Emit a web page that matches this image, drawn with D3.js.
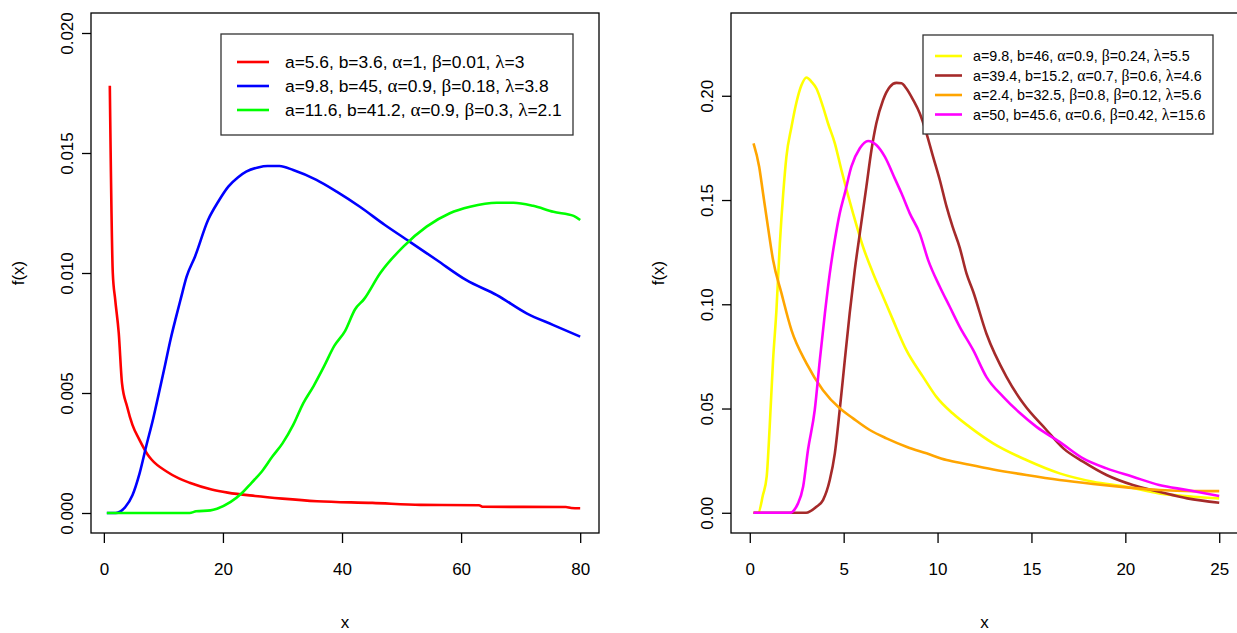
<!DOCTYPE html>
<html>
<head>
<meta charset="utf-8">
<script src="https://cdn.jsdelivr.net/npm/d3@7"></script>
<style>
  html, body { margin: 0; padding: 0; background: #fff; }
  svg { display: block; }
  text { font-family: "Liberation Sans", Arial, sans-serif; fill: #000; }
  .greek { font-family: "Liberation Serif", "DejaVu Serif", serif; }
</style>
</head>
<body>
<svg id="chart" width="1237" height="633"></svg>
<script>
// ---- Left panel: three densities on x in [1, 80] ----
const leftXTicks = [0, 20, 40, 60, 80];
const leftYTicks = [0, 0.005, 0.010, 0.015, 0.020];
const leftYTickLabels = ["0.000", "0.005", "0.010", "0.015", "0.020"];

const redX = [1, 1.5, 1.9, 2.5, 3.05, 3.9, 4.8, 6.0, 7.4, 8.0, 10.6, 12.6, 14.4, 18.1, 20.8, 25.4, 30, 35.8, 45.1, 53.2, 63.0, 63.7, 77.6, 78.5, 80];
const redY = [0.0178, 0.0100, 0.0089, 0.0075, 0.0054, 0.00444, 0.00367, 0.00304, 0.00242, 0.00223, 0.00172, 0.00144, 0.00126, 0.00098, 0.00085, 0.00071, 0.0006, 0.00049, 0.00042, 0.00034, 0.00032, 0.00026, 0.00025, 0.00021, 0.0002];

const blueX = [0.5, 2.0, 2.8, 3.6, 4.8, 6.0, 7.1, 8.3, 9.5, 10.3, 11.2, 12.1, 12.9, 13.9, 15.3, 17.5, 19.2, 20.9, 22.5, 23.9, 25.9, 27.5, 29.5, 31.8, 35.7, 39.1, 43.0, 47.2, 51.4, 55.9, 60.9, 66.0, 71.0, 75.5, 80];
const blueY = [0, 0, 0.00007, 0.00025, 0.00074, 0.00165, 0.00277, 0.00395, 0.00528, 0.00619, 0.00723, 0.00814, 0.00891, 0.00985, 0.01068, 0.01221, 0.01297, 0.0136, 0.01398, 0.01422, 0.0144, 0.01446, 0.01446, 0.01429, 0.01388, 0.01339, 0.01276, 0.0120, 0.0113, 0.01054, 0.0097, 0.00908, 0.00832, 0.00783, 0.00735];

const greenX = [0.5, 14.4, 15.5, 17.9, 19.0, 21.3, 23.1, 24.8, 26.5, 28.3, 30.0, 31.8, 33.5, 35.2, 37.0, 38.7, 40.5, 42.2, 43.7, 46.4, 50.3, 54.2, 58.1, 61.5, 66.0, 68.8, 72.1, 75.5, 78.9, 80];
const greenY = [0, 0, 0.00007, 0.00011, 0.00018, 0.00046, 0.00081, 0.00126, 0.00172, 0.00235, 0.0029, 0.00367, 0.00458, 0.00528, 0.00612, 0.00696, 0.00758, 0.00849, 0.00891, 0.00999, 0.0111, 0.01193, 0.01249, 0.01276, 0.01293, 0.01293, 0.0128, 0.01255, 0.01238, 0.01221];

const leftColors = ["#FF0000", "#0000FF", "#00FF00"];
const leftLegend = [
  [["a=5.6, b=3.6, ", 0], ["\u03b1", 1], ["=1, ", 0], ["\u03b2", 1], ["=0.01, ", 0], ["\u03bb", 1], ["=3", 0]],
  [["a=9.8, b=45, ", 0], ["\u03b1", 1], ["=0.9, ", 0], ["\u03b2", 1], ["=0.18, ", 0], ["\u03bb", 1], ["=3.8", 0]],
  [["a=11.6, b=41.2, ", 0], ["\u03b1", 1], ["=0.9, ", 0], ["\u03b2", 1], ["=0.3, ", 0], ["\u03bb", 1], ["=2.1", 0]]
];

// ---- Right panel: four densities on x in (0, 25] ----
const rightXTicks = [0, 5, 10, 15, 20, 25];
const rightYTicks = [0, 0.05, 0.10, 0.15, 0.20];
const rightYTickLabels = ["0.00", "0.05", "0.10", "0.15", "0.20"];

const yellowX = [0.2, 0.45, 0.7, 0.9, 1.06, 1.24, 1.42, 1.6, 1.78, 1.95, 2.22, 2.49, 2.75, 3.02, 3.29, 3.55, 3.9, 4.17, 4.53, 4.88, 5.5, 6.03, 6.57, 7.1, 7.63, 8.34, 9.23, 9.94, 10.8, 11.7, 12.96, 14.73, 16.5, 18.28, 20.06, 21.8, 23.6, 25];
const yellowY = [0, 0, 0.0085, 0.0173, 0.0412, 0.0732, 0.0972, 0.129, 0.153, 0.1707, 0.185, 0.197, 0.205, 0.2088, 0.2067, 0.2035, 0.1947, 0.1867, 0.1772, 0.1644, 0.1436, 0.1276, 0.1148, 0.1036, 0.0924, 0.078, 0.0652, 0.0556, 0.0477, 0.0412, 0.0333, 0.0253, 0.0189, 0.0149, 0.0125, 0.0093, 0.0077, 0.0069];

const brownX = [0.2, 3.0, 3.55, 3.9, 4.26, 4.53, 4.79, 5.06, 5.32, 5.59, 5.86, 6.21, 6.48, 6.74, 7.1, 7.46, 7.81, 8.08, 8.34, 8.7, 9.05, 9.41, 9.76, 10.12, 10.48, 10.8, 11.18, 11.54, 11.9, 12.6, 13.67, 14.56, 15.8, 16.7, 17.75, 19, 20.4, 21.8, 23.3, 25];
const brownY = [0, 0, 0.0029, 0.0061, 0.0157, 0.0285, 0.0493, 0.0732, 0.0956, 0.1164, 0.134, 0.1564, 0.174, 0.1868, 0.198, 0.2043, 0.2062, 0.206, 0.2035, 0.198, 0.1916, 0.182, 0.1708, 0.1596, 0.1468, 0.1372, 0.1272, 0.1148, 0.106, 0.086, 0.0652, 0.0525, 0.0397, 0.0309, 0.0245, 0.0181, 0.0133, 0.0101, 0.0069, 0.0048];

const orangeX = [0.2, 0.5, 0.71, 0.97, 1.24, 1.69, 2.22, 3.02, 3.9, 4.79, 5.5, 6.39, 7.28, 8.34, 9.41, 10.48, 11.5, 12.96, 14.73, 16.5, 18.28, 20.06, 21.8, 23.6, 25];
const orangeY = [0.1772, 0.166, 0.153, 0.137, 0.1212, 0.1052, 0.0876, 0.0717, 0.0588, 0.0501, 0.0453, 0.0397, 0.0357, 0.0317, 0.0285, 0.0253, 0.0234, 0.0208, 0.0181, 0.0157, 0.0138, 0.0122, 0.0109, 0.0104, 0.0104];

const magentaX = [0.2, 2.13, 2.57, 2.84, 3.1, 3.46, 3.73, 4.0, 4.26, 4.53, 4.79, 5.06, 5.41, 5.86, 6.3, 6.74, 7.19, 7.72, 8.08, 8.52, 9.05, 9.5, 10.12, 10.65, 11.18, 11.9, 12.6, 13.5, 14.4, 15.27, 16.5, 17.75, 19, 20.4, 21.8, 23.3, 25];
const magentaY = [0, 0, 0.0045, 0.0125, 0.0301, 0.0493, 0.0732, 0.0956, 0.1148, 0.1308, 0.1436, 0.1532, 0.166, 0.1748, 0.1783, 0.1764, 0.1708, 0.1604, 0.1532, 0.1436, 0.134, 0.1212, 0.1084, 0.0988, 0.0892, 0.078, 0.0652, 0.0556, 0.0477, 0.0412, 0.034, 0.0261, 0.0213, 0.0173, 0.0133, 0.0109, 0.008];

const rightColors = ["#FFFF00", "#A52A2A", "#FFA500", "#FF00FF"];
const rightLegend = [
  [["a=9.8, b=46, ", 0], ["\u03b1", 1], ["=0.9, ", 0], ["\u03b2", 1], ["=0.24, ", 0], ["\u03bb", 1], ["=5.5", 0]],
  [["a=39.4, b=15.2, ", 0], ["\u03b1", 1], ["=0.7, ", 0], ["\u03b2", 1], ["=0.6, ", 0], ["\u03bb", 1], ["=4.6", 0]],
  [["a=2.4, b=32.5, ", 0], ["\u03b2", 1], ["=0.8, ", 0], ["\u03b2", 1], ["=0.12, ", 0], ["\u03bb", 1], ["=5.6", 0]],
  [["a=50, b=45.6, ", 0], ["\u03b1", 1], ["=0.6, ", 0], ["\u03b2", 1], ["=0.42, ", 0], ["\u03bb", 1], ["=15.6", 0]]
];

const zip = (xs, ys) => xs.map((x, i) => [x, ys[i]]);

const svg = d3.select("#chart");

function drawPanel(cfg) {
  const { box, xDomain, yDomain, xTicks, yTicks, yTickLabels, series, colors, legend, id } = cfg;
  const x = d3.scaleLinear().domain(xDomain).range([box.left, box.right]);
  const y = d3.scaleLinear().domain(yDomain).range([box.bottom, box.top]);
  const g = svg.append("g");

  g.append("clipPath").attr("id", id).append("rect")
    .attr("x", box.left).attr("y", box.top)
    .attr("width", box.right - box.left).attr("height", box.bottom - box.top);

  const line = d3.line().x(d => x(d[0])).y(d => y(d[1])).curve(d3.curveMonotoneX);
  const plot = g.append("g").attr("clip-path", `url(#${id})`);
  series.forEach((s, i) => {
    plot.append("path").datum(s)
      .attr("d", line)
      .attr("fill", "none")
      .attr("stroke", colors[i])
      .attr("stroke-width", 2.6)
      .attr("stroke-linejoin", "round");
  });

  // x axis
  const xAxis = d3.axisBottom(x).tickValues(xTicks).tickSize(10).tickPadding(20).tickFormat(d3.format("d"));
  const gx = g.append("g").attr("transform", `translate(0,${box.bottom})`).call(xAxis);
  gx.select(".domain").remove();
  gx.selectAll("line").attr("stroke", "#000").attr("stroke-width", 1.3);
  gx.selectAll("text").attr("font-size", 17).attr("font-family", "Liberation Sans, Arial, sans-serif").attr("fill", "#000");

  // y axis with rotated labels
  const yAxis = d3.axisLeft(y).tickValues(yTicks).tickSize(9).tickFormat((d, i) => yTickLabels[i]);
  const gy = g.append("g").attr("transform", `translate(${box.left},0)`).call(yAxis);
  gy.select(".domain").remove();
  gy.selectAll("line").attr("stroke", "#000").attr("stroke-width", 1.3);
  gy.selectAll("text")
    .attr("font-size", 17).attr("font-family", "Liberation Sans, Arial, sans-serif").attr("fill", "#000")
    .attr("x", null).attr("dy", null)
    .attr("text-anchor", "middle")
    .attr("transform", "translate(-18,0) rotate(-90)");

  // frame
  g.append("rect")
    .attr("x", box.left).attr("y", box.top)
    .attr("width", box.right - box.left).attr("height", box.bottom - box.top)
    .attr("fill", "none").attr("stroke", "#000").attr("stroke-width", 1.3);

  // axis titles
  g.append("text").attr("x", (box.left + box.right) / 2).attr("y", 628)
    .attr("text-anchor", "middle").attr("font-size", 17).text("x");
  g.append("text")
    .attr("transform", `translate(${box.left - 67},${(box.top + box.bottom) / 2}) rotate(-90)`)
    .attr("text-anchor", "middle").attr("font-size", 17).text("f(x)");

  // legend
  const L = legend;
  const lg = g.append("g");
  lg.append("rect").attr("x", L.x).attr("y", L.y).attr("width", L.w).attr("height", L.h)
    .attr("fill", "#fff").attr("stroke", "#333").attr("stroke-width", 1.3);
  L.rows.forEach((row, i) => {
    const cy = L.firstRow + i * L.step;
    lg.append("line").attr("x1", L.lineX0).attr("x2", L.lineX1).attr("y1", cy).attr("y2", cy)
      .attr("stroke", colors[i]).attr("stroke-width", 2.6);
    const t = lg.append("text").attr("x", L.textX).attr("y", cy).attr("dy", "0.36em")
      .attr("font-size", L.fontSize);
    row.forEach(([s, greek]) => {
      const ts = t.append("tspan").text(s);
      if (greek) ts.attr("class", "greek").attr("font-size", L.fontSize * 1.1);
    });
  });
}

drawPanel({
  id: "clipLeft",
  box: { left: 91, right: 599, top: 13, bottom: 533 },
  xDomain: [-2.16, 83.16],
  yDomain: [-0.0008333, 0.0208333],
  xTicks: leftXTicks, yTicks: leftYTicks, yTickLabels: leftYTickLabels,
  series: [zip(redX, redY), zip(blueX, blueY), zip(greenX, greenY)],
  colors: leftColors,
  legend: { x: 221, y: 34, w: 352, h: 101, lineX0: 237, lineX1: 269, textX: 285,
            firstRow: 62, step: 24, fontSize: 17.4, rows: leftLegend }
});

drawPanel({
  id: "clipRight",
  box: { left: 731, right: 1238, top: 13, bottom: 533 },
  xDomain: [-1, 26],
  yDomain: [-0.0097, 0.2397],
  xTicks: rightXTicks, yTicks: rightYTicks, yTickLabels: rightYTickLabels,
  series: [zip(yellowX, yellowY), zip(brownX, brownY), zip(orangeX, orangeY), zip(magentaX, magentaY)],
  colors: rightColors,
  legend: { x: 923, y: 35, w: 290, h: 99, lineX0: 935, lineX1: 962, textX: 973,
            firstRow: 56, step: 19.5, fontSize: 14.3, rows: rightLegend }
});
</script>
</body>
</html>
